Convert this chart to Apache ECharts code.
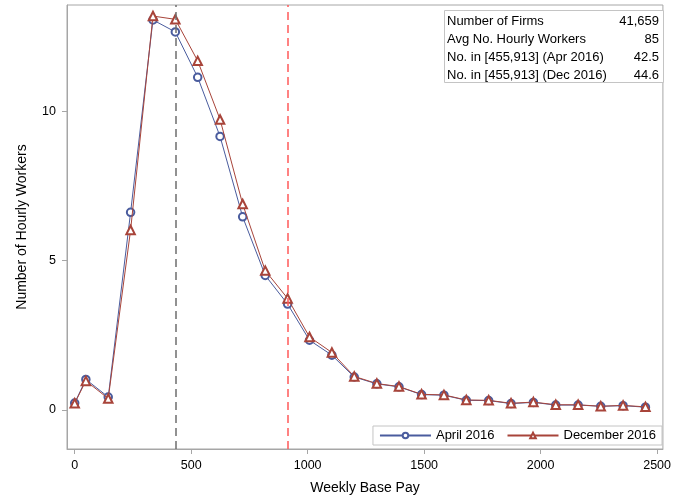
<!DOCTYPE html>
<html>
<head>
<meta charset="utf-8">
<script src="https://cdn.jsdelivr.net/npm/echarts@6/dist/echarts.min.js"></script>
<style>
  html, body { margin: 0; padding: 0; background: #fff; }
  #chart { width: 674px; height: 500px; }
</style>
</head>
<body>
<div id="chart"></div>
<script>
// Weekly base pay bins (bin centres, $)
const payBins = [0, 48, 144, 240, 336, 432, 528, 624, 721, 818, 914, 1008, 1104, 1200,
  1297, 1392, 1489, 1585, 1681, 1777, 1873, 1969, 2065, 2161, 2258, 2354, 2450];

// Average number of hourly workers per firm in each bin
const april2016 = [0.23, 1.02, 0.43, 6.61, 13.05, 12.65, 11.13, 9.15, 6.46, 4.50, 3.54, 2.33,
  1.83, 1.10, 0.87, 0.77, 0.51, 0.49, 0.32, 0.31, 0.21, 0.25, 0.16, 0.16, 0.12, 0.14, 0.09];
const december2016 = [0.22, 0.97, 0.38, 6.02, 13.18, 13.07, 11.68, 9.72, 6.89, 4.66, 3.73, 2.44,
  1.92, 1.12, 0.88, 0.78, 0.52, 0.50, 0.33, 0.32, 0.22, 0.26, 0.17, 0.17, 0.12, 0.15, 0.10];

const seriesNames = ['April 2016', 'December 2016'];

// Reference pay levels drawn as dashed verticals
const refGray = 432;
const refRed = 913;

// Axis ticks
const xTicks = [0, 500, 1000, 1500, 2000, 2500];
const yTicks = [0, 5, 10];

// Summary statistics inset
const statLabels = ['Number of Firms', 'Avg No. Hourly Workers',
  'No. in [455,913] (Apr 2016)', 'No. in [455,913] (Dec 2016)'];
const statValues = ['41,659', '85', '42.5', '44.6'];

const FONT = "'Liberation Sans', Arial, sans-serif";
const AXIS_GRAY = '#a6a6a6';
const BLUE = '#4a5c9e';
const RED = '#a8443a';

const chart = echarts.init(document.getElementById('chart'), null, { renderer: 'canvas' });

const toPairs = (xs, ys) => xs.map((x, i) => [x, ys[i]]);

const statText = [];
statLabels.forEach((lab, i) => {
  const y = 21 + i * 18.3;
  statText.push({
    type: 'text', z: 100,
    style: { text: lab, x: 447, y: y, textVerticalAlign: 'middle',
      font: '13px ' + FONT, fill: '#000' }
  });
  statText.push({
    type: 'text', z: 100,
    style: { text: statValues[i], x: 659, y: y, textAlign: 'right', textVerticalAlign: 'middle',
      font: '13px ' + FONT, fill: '#000' }
  });
});

chart.setOption({
  animation: false,
  backgroundColor: '#fff',
  textStyle: { fontFamily: FONT },
  grid: {
    left: 67, right: 9, top: 5, bottom: 51,
    show: true, borderColor: AXIS_GRAY, borderWidth: 1, backgroundColor: '#fff'
  },
  xAxis: {
    type: 'value', min: -33, max: 2525,
    name: 'Weekly Base Pay', nameLocation: 'middle', nameGap: 32,
    nameTextStyle: { fontSize: 14, color: '#000', fontFamily: FONT },
    axisLine: { show: true, onZero: false, lineStyle: { color: AXIS_GRAY, width: 1 } },
    axisTick: { show: true, inside: false, length: 5, customValues: xTicks, lineStyle: { color: AXIS_GRAY } },
    axisLabel: { customValues: xTicks, fontSize: 12.5, color: '#000', margin: 10, fontFamily: FONT,
      formatter: v => String(v) },
    splitLine: { show: false }
  },
  yAxis: {
    type: 'value', min: -1.31, max: 13.55,
    name: 'Number of Hourly Workers', nameLocation: 'middle', nameGap: 38,
    nameTextStyle: { fontSize: 14, color: '#000', fontFamily: FONT },
    axisLine: { show: true, onZero: false, lineStyle: { color: AXIS_GRAY, width: 1 } },
    axisTick: { show: true, inside: false, length: 5, customValues: yTicks, lineStyle: { color: AXIS_GRAY } },
    axisLabel: { customValues: yTicks, fontSize: 12.5, color: '#000', margin: 11, fontFamily: FONT,
      formatter: v => String(v) },
    splitLine: { show: false }
  },
  legend: {
    right: 12, top: 426,
    orient: 'horizontal',
    borderColor: '#c4c4c4', borderWidth: 1, backgroundColor: '#fff',
    padding: [3, 6, 3, 6],
    itemWidth: 51, itemHeight: 7, itemGap: 12,
    textStyle: { fontSize: 13, color: '#000', fontFamily: FONT, lineHeight: 10 },
    data: seriesNames
  },
  series: [
    {
      name: seriesNames[0],
      type: 'line',
      data: toPairs(payBins, april2016),
      symbol: 'emptyCircle', symbolSize: 7.5,
      lineStyle: { color: BLUE, width: 1 },
      itemStyle: { color: BLUE, borderWidth: 1 },
      z: 3,
      markLine: {
        silent: true, symbol: 'none', animation: false,
        label: { show: false },
        data: [
          { xAxis: refGray, lineStyle: { color: '#6e6e6e', width: 1.5, type: [8, 5] } },
          { xAxis: refRed, lineStyle: { color: '#ff5a5a', width: 1.5, type: [8, 5] } }
        ]
      }
    },
    {
      name: seriesNames[1],
      type: 'line',
      data: toPairs(payBins, december2016),
      symbol: 'emptyTriangle', symbolSize: 8.5,
      lineStyle: { color: RED, width: 1 },
      itemStyle: { color: RED, borderWidth: 1 },
      z: 4
    }
  ],
  graphic: [
    { type: 'rect', z: 99, shape: { x: 444.5, y: 10.5, width: 219, height: 72 },
      style: { fill: '#fff', stroke: '#c4c4c4', lineWidth: 1 } }
  ].concat(statText)
});
</script>
</body>
</html>
